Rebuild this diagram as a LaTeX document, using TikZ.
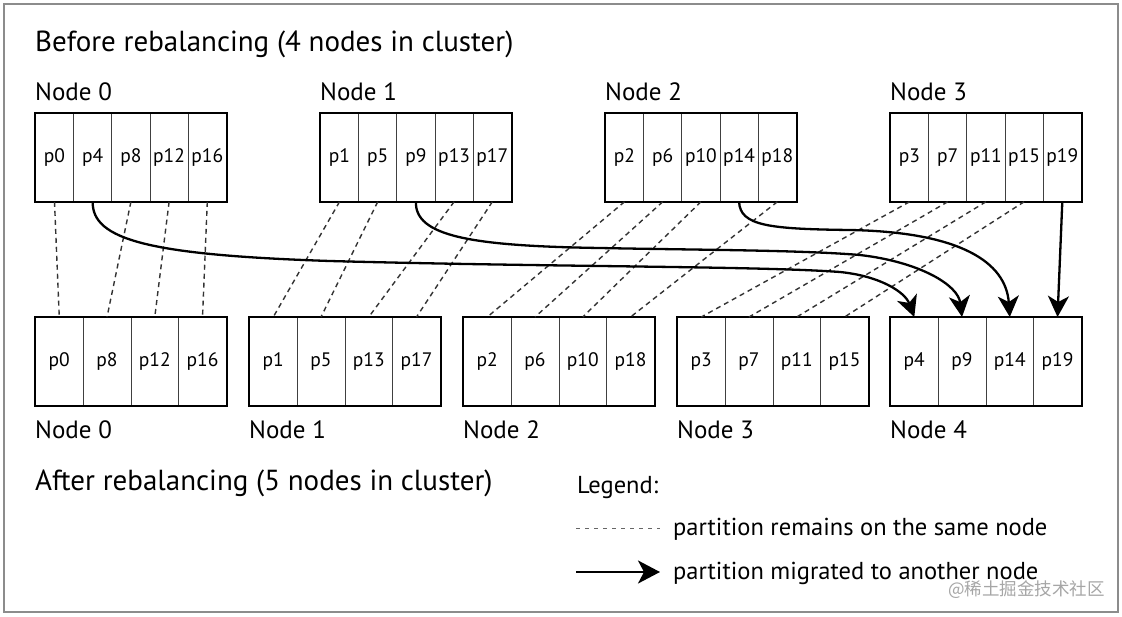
\documentclass[tikz,border=0pt]{standalone}
\usepackage{fontspec}
\setmainfont{PT Sans}
\newfontfamily\cjk{Noto Sans CJK SC}
\usetikzlibrary{arrows.meta}
\tikzset{
  cellbox/.style={draw=black!75, line width=0.8pt, inner sep=0pt, anchor=north west, font=\fontsize{19.5}{22}\selectfont},
  outerbox/.style={draw=black, line width=2.4pt},
  keepline/.style={draw=black!80, line width=1.4pt, dash pattern=on 5pt off 4pt},
  migrline/.style={draw=black, line width=2.3pt, -{Stealth[length=21pt,width=21pt,inset=6pt]}},
  titletext/.style={anchor=base west, inner sep=0pt, font=\fontsize{29}{32}\selectfont},
  nodetext/.style={anchor=base west, inner sep=0pt, font=\fontsize{25}{30}\selectfont},
  legendtext/.style={anchor=base west, inner sep=0pt, font=\fontsize{24.5}{28}\selectfont},
}
\newcommand{\partbox}[6]{% prefix, x0, y0, cell width, height, list
  \foreach \lab [count=\i] in {#6} {
    \node[cellbox, minimum width=#4pt, minimum height=#5pt] (#1\lab) at ({#2+(\i-1)*#4}, #3) {\lab};
  }
}
\begin{document}
\begin{tikzpicture}[x=1pt,y=-1pt]
\useasboundingbox (0,0) rectangle (1122,616);
\fill[white] (0,0) rectangle (1122,616);
\draw[black!45, line width=1.6pt] (4,4) rectangle (1118,612);

\node[titletext] (title1) at (35,51) {Before rebalancing (4 nodes in cluster)};
\node[titletext] (title2) at (35,490) {After rebalancing (5 nodes in cluster)};

% top nodes
\node[nodetext] (lt0) at (35,100) {Node 0};
\node[nodetext] (lt1) at (320,100) {Node 1};
\node[nodetext] (lt2) at (605,100) {Node 2};
\node[nodetext] (lt3) at (890,100) {Node 3};
\partbox{t}{35}{113}{38.2}{88}{p0,p4,p8,p12,p16}
\partbox{t}{320}{113}{38.2}{88}{p1,p5,p9,p13,p17}
\partbox{t}{605}{113}{38.2}{88}{p2,p6,p10,p14,p18}
\partbox{t}{890}{113}{38.2}{88}{p3,p7,p11,p15,p19}
\draw[outerbox] (tp0.north west) rectangle (tp16.south east);
\draw[outerbox] (tp1.north west) rectangle (tp17.south east);
\draw[outerbox] (tp2.north west) rectangle (tp18.south east);
\draw[outerbox] (tp3.north west) rectangle (tp19.south east);

% bottom nodes
\partbox{b}{35}{317}{47.75}{88}{p0,p8,p12,p16}
\partbox{b}{249}{317}{47.75}{88}{p1,p5,p13,p17}
\partbox{b}{463}{317}{47.75}{88}{p2,p6,p10,p18}
\partbox{b}{677}{317}{47.75}{88}{p3,p7,p11,p15}
\partbox{b}{890}{317}{47.75}{88}{p4,p9,p14,p19}
\draw[outerbox] (bp0.north west) rectangle (bp16.south east);
\draw[outerbox] (bp1.north west) rectangle (bp17.south east);
\draw[outerbox] (bp2.north west) rectangle (bp18.south east);
\draw[outerbox] (bp3.north west) rectangle (bp15.south east);
\draw[outerbox] (bp4.north west) rectangle (bp19.south east);
\node[nodetext] (lb0) at (35,438) {Node 0};
\node[nodetext] (lb1) at (249,438) {Node 1};
\node[nodetext] (lb2) at (463,438) {Node 2};
\node[nodetext] (lb3) at (677,438) {Node 3};
\node[nodetext] (lb4) at (890,438) {Node 4};

% partitions that stay
\foreach \p in {p0,p8,p12,p16,p1,p5,p13,p17,p2,p6,p10,p18,p3,p7,p11,p15} {
  \draw[keepline] (t\p.south) -- (b\p.north);
}

% migrated partitions
\draw[migrline] (tp4.south) .. controls (92,240) and (150,255) .. (330,261)
  .. controls (550,267) and (760,266) .. (840,272)
  .. controls (880,276) and (905,292) .. (bp4.north);
\draw[migrline] (tp9.south) .. controls (415,236) and (470,246) .. (600,248)
  .. controls (700,250) and (800,250) .. (860,255)
  .. controls (920,262) and (958,285) .. (bp9.north);
\draw[migrline] (tp14.south) .. controls (740,226) and (770,229) .. (850,230)
  .. controls (960,232) and (1006,262) .. (bp14.north);
\draw[migrline] (tp19.south) -- (bp19.north);

% legend
\node[legendtext] (leg) at (577,493) {Legend:};
\coordinate (k1) at (576,528);
\coordinate (k2) at (660,528);
\draw[draw=black!60, line width=1pt, dash pattern=on 3.5pt off 5.5pt] (k1) -- (k2);
\node[legendtext] (legk) at (673,535) {partition remains on the same node};
\coordinate (m1) at (576,572);
\coordinate (m2) at (660,572);
\draw[line width=2.3pt, -{Stealth[length=22pt,width=23pt,inset=6pt]}] (m1) -- (m2);
\node[legendtext] (legm) at (673,579) {partition migrated to another node};

\node[anchor=base east, inner sep=0pt, text=black!35, font=\cjk\fontsize{17.5}{20}\selectfont] (wm) at (1105,595) {@稀土掘金技术社区};
\end{tikzpicture}
\end{document}
